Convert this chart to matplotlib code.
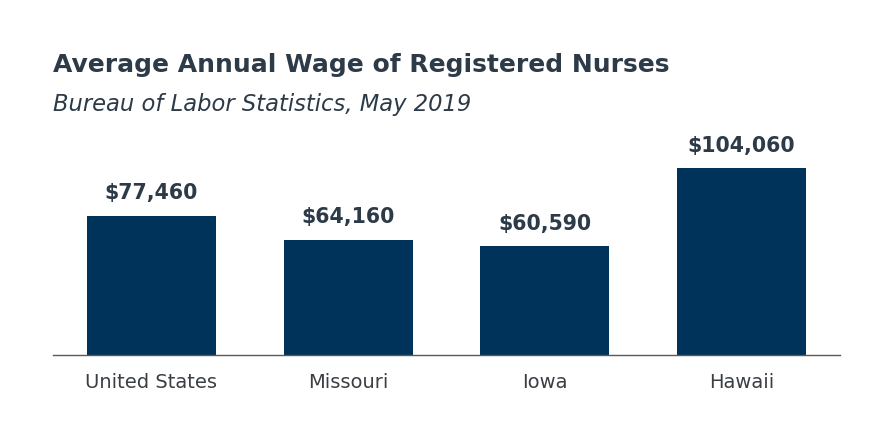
import matplotlib
matplotlib.use("Agg")
import matplotlib.pyplot as plt

categories = ["United States", "Missouri", "Iowa", "Hawaii"]
wages = [77460, 64160, 60590, 104060]
value_labels = ["$77,460", "$64,160", "$60,590", "$104,060"]

title = "Average Annual Wage of Registered Nurses"
subtitle = "Bureau of Labor Statistics, May 2019"

plt.rcParams['font.family'] = ['DejaVu Sans']

fig = plt.figure(figsize=(8.81, 4.33), dpi=100)
ax = fig.add_axes([0.0602, 0.1801, 0.8933, 0.4965])

bar_color = "#003359"
text_color = "#2d3a47"

x = range(len(categories))
bars = ax.bar(x, wages, width=0.655, color=bar_color)

ax.set_xlim(-0.5, len(categories) - 0.5)
ax.set_ylim(0, 119700)

for b, lab in zip(bars, value_labels):
    ax.annotate(lab, (b.get_x() + b.get_width() / 2, b.get_height()),
                xytext=(0, 9), textcoords="offset points", ha="center", va="bottom",
                fontsize=14.8, fontweight="bold", color=text_color)

ax.set_xticks(list(x))
ax.set_xticklabels(categories, fontsize=14, color="#3a3f44")
ax.tick_params(axis="x", length=0, pad=13)
ax.set_yticks([])
for s in ["top", "right", "left"]:
    ax.spines[s].set_visible(False)
ax.spines["bottom"].set_color("#595959")
ax.spines["bottom"].set_linewidth(1.0)

fig.text(53 / 881, 1 - 65 / 433, title, fontsize=18, fontweight="bold",
         color=text_color, va="center", ha="left")
fig.text(53 / 881, 1 - 104 / 433, subtitle, fontsize=16.3, style="italic",
         color=text_color, va="center", ha="left")

fig.savefig("out.png", dpi=100, facecolor="white")
